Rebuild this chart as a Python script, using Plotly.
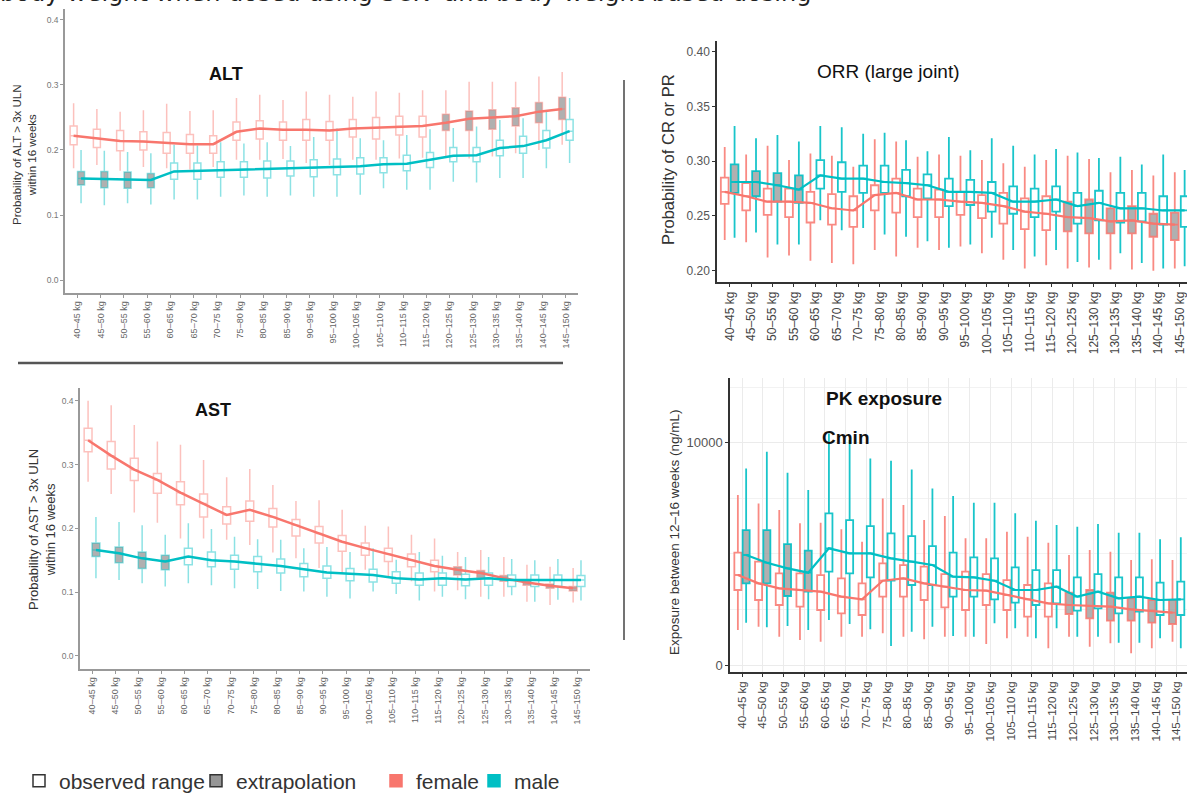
import plotly.graph_objects as go

W, H = 1187, 796

categories = ["40–45 kg", "45–50 kg", "50–55 kg", "55–60 kg", "60–65 kg", "65–70 kg",
              "70–75 kg", "75–80 kg", "80–85 kg", "85–90 kg", "90–95 kg", "95–100 kg",
              "100–105 kg", "105–110 kg", "110–115 kg", "115–120 kg", "120–125 kg",
              "125–130 kg", "130–135 kg", "135–140 kg", "140–145 kg", "145–150 kg"]

# 1 = extrapolation (outside observed weight range), 0 = observed range
female_extrap = [0, 0, 0, 0, 0, 0, 0, 0, 0, 0, 0, 0, 0, 0, 0, 0, 1, 1, 1, 1, 1, 1]
male_extrap = [1, 1, 1, 1, 0, 0, 0, 0, 0, 0, 0, 0, 0, 0, 0, 0, 0, 0, 0, 0, 0, 0]

# ---------------- ALT ----------------
alt_f_med = [0.222, 0.218, 0.214, 0.213, 0.211, 0.209, 0.209, 0.228, 0.233, 0.231, 0.231, 0.230, 0.233, 0.234, 0.236, 0.237, 0.242, 0.248, 0.250, 0.252, 0.259, 0.263]
alt_f_q1 = [0.208, 0.204, 0.199, 0.200, 0.195, 0.195, 0.195, 0.215, 0.217, 0.215, 0.215, 0.215, 0.220, 0.217, 0.223, 0.220, 0.230, 0.230, 0.232, 0.237, 0.242, 0.247]
alt_f_q3 = [0.237, 0.232, 0.230, 0.228, 0.227, 0.224, 0.222, 0.243, 0.245, 0.243, 0.247, 0.244, 0.247, 0.250, 0.252, 0.252, 0.255, 0.260, 0.262, 0.265, 0.273, 0.281]
alt_f_lo = [0.172, 0.177, 0.168, 0.174, 0.172, 0.170, 0.174, 0.185, 0.185, 0.186, 0.180, 0.177, 0.185, 0.185, 0.187, 0.188, 0.190, 0.187, 0.190, 0.195, 0.200, 0.208]
alt_f_hi = [0.272, 0.263, 0.259, 0.261, 0.271, 0.260, 0.261, 0.280, 0.285, 0.277, 0.290, 0.285, 0.282, 0.290, 0.288, 0.292, 0.292, 0.305, 0.305, 0.305, 0.313, 0.320]

alt_m_med = [0.156, 0.155, 0.154, 0.154, 0.167, 0.168, 0.169, 0.170, 0.170, 0.172, 0.172, 0.174, 0.175, 0.178, 0.179, 0.185, 0.191, 0.192, 0.203, 0.206, 0.215, 0.229]
alt_m_q1 = [0.146, 0.142, 0.141, 0.142, 0.155, 0.155, 0.158, 0.158, 0.157, 0.160, 0.159, 0.162, 0.163, 0.165, 0.168, 0.173, 0.182, 0.182, 0.191, 0.195, 0.203, 0.215]
alt_m_q3 = [0.167, 0.167, 0.166, 0.164, 0.180, 0.180, 0.182, 0.182, 0.183, 0.183, 0.185, 0.186, 0.188, 0.188, 0.192, 0.196, 0.204, 0.204, 0.215, 0.221, 0.230, 0.247]
alt_m_lo = [0.118, 0.115, 0.118, 0.116, 0.124, 0.124, 0.128, 0.130, 0.128, 0.130, 0.128, 0.128, 0.131, 0.141, 0.139, 0.139, 0.151, 0.150, 0.157, 0.157, 0.172, 0.180]
alt_m_hi = [0.200, 0.199, 0.197, 0.195, 0.208, 0.207, 0.212, 0.210, 0.212, 0.206, 0.220, 0.233, 0.218, 0.215, 0.223, 0.232, 0.234, 0.236, 0.246, 0.249, 0.259, 0.280]

# ---------------- AST ----------------
ast_f_med = [0.338, 0.314, 0.292, 0.276, 0.256, 0.239, 0.221, 0.229, 0.218, 0.205, 0.192, 0.179, 0.169, 0.160, 0.150, 0.141, 0.135, 0.130, 0.122, 0.115, 0.110, 0.106]
ast_f_q1 = [0.320, 0.293, 0.275, 0.255, 0.237, 0.218, 0.207, 0.211, 0.202, 0.188, 0.177, 0.164, 0.158, 0.148, 0.140, 0.132, 0.127, 0.123, 0.117, 0.111, 0.106, 0.102]
ast_f_q3 = [0.357, 0.336, 0.310, 0.286, 0.273, 0.254, 0.234, 0.243, 0.231, 0.214, 0.203, 0.189, 0.177, 0.169, 0.160, 0.150, 0.140, 0.134, 0.126, 0.118, 0.113, 0.109]
ast_f_lo = [0.273, 0.254, 0.225, 0.209, 0.184, 0.184, 0.182, 0.174, 0.162, 0.153, 0.138, 0.130, 0.135, 0.124, 0.117, 0.101, 0.103, 0.093, 0.093, 0.085, 0.080, 0.084]
ast_f_hi = [0.400, 0.393, 0.362, 0.336, 0.331, 0.307, 0.280, 0.293, 0.268, 0.243, 0.244, 0.229, 0.204, 0.203, 0.190, 0.184, 0.163, 0.166, 0.155, 0.143, 0.140, 0.138]

ast_m_med = [0.166, 0.161, 0.153, 0.148, 0.156, 0.150, 0.148, 0.145, 0.141, 0.136, 0.131, 0.129, 0.127, 0.122, 0.120, 0.122, 0.120, 0.122, 0.119, 0.119, 0.119, 0.119]
ast_m_q1 = [0.156, 0.146, 0.137, 0.135, 0.143, 0.140, 0.136, 0.132, 0.130, 0.124, 0.122, 0.118, 0.116, 0.114, 0.111, 0.111, 0.110, 0.111, 0.109, 0.109, 0.109, 0.109]
ast_m_q3 = [0.177, 0.171, 0.163, 0.158, 0.169, 0.163, 0.158, 0.156, 0.152, 0.145, 0.141, 0.137, 0.136, 0.132, 0.130, 0.130, 0.128, 0.130, 0.127, 0.127, 0.127, 0.126]
ast_m_lo = [0.122, 0.119, 0.114, 0.109, 0.114, 0.111, 0.106, 0.105, 0.102, 0.101, 0.093, 0.090, 0.101, 0.097, 0.087, 0.093, 0.089, 0.089, 0.095, 0.085, 0.088, 0.087]
ast_m_hi = [0.218, 0.210, 0.205, 0.190, 0.208, 0.199, 0.187, 0.183, 0.182, 0.169, 0.171, 0.163, 0.169, 0.151, 0.163, 0.157, 0.155, 0.155, 0.152, 0.150, 0.152, 0.150]

# ---------------- ORR ----------------
orr_f_med = [0.272, 0.268, 0.263, 0.263, 0.262, 0.257, 0.255, 0.269, 0.271, 0.265, 0.265, 0.263, 0.262, 0.259, 0.254, 0.252, 0.249, 0.248, 0.245, 0.246, 0.243, 0.242]
orr_f_q1 = [0.261, 0.255, 0.251, 0.249, 0.244, 0.242, 0.240, 0.255, 0.253, 0.249, 0.249, 0.251, 0.248, 0.243, 0.238, 0.237, 0.236, 0.234, 0.234, 0.234, 0.231, 0.228]
orr_f_q3 = [0.285, 0.280, 0.275, 0.275, 0.272, 0.270, 0.268, 0.278, 0.284, 0.275, 0.274, 0.272, 0.269, 0.271, 0.266, 0.268, 0.263, 0.265, 0.257, 0.259, 0.252, 0.253]
orr_f_lo = [0.228, 0.226, 0.212, 0.214, 0.209, 0.207, 0.206, 0.219, 0.213, 0.221, 0.219, 0.222, 0.216, 0.210, 0.202, 0.205, 0.202, 0.203, 0.201, 0.201, 0.200, 0.202]
orr_f_hi = [0.313, 0.306, 0.314, 0.301, 0.307, 0.305, 0.295, 0.320, 0.318, 0.304, 0.306, 0.305, 0.301, 0.298, 0.295, 0.301, 0.305, 0.302, 0.290, 0.292, 0.287, 0.290]

orr_m_med = [0.281, 0.281, 0.278, 0.274, 0.287, 0.284, 0.284, 0.281, 0.280, 0.278, 0.272, 0.272, 0.271, 0.263, 0.263, 0.265, 0.259, 0.262, 0.257, 0.257, 0.255, 0.255]
orr_m_q1 = [0.271, 0.268, 0.263, 0.262, 0.275, 0.272, 0.271, 0.271, 0.268, 0.266, 0.259, 0.260, 0.254, 0.252, 0.249, 0.254, 0.243, 0.246, 0.244, 0.245, 0.242, 0.240]
orr_m_q3 = [0.297, 0.291, 0.289, 0.287, 0.301, 0.299, 0.296, 0.296, 0.292, 0.288, 0.284, 0.283, 0.281, 0.277, 0.275, 0.277, 0.271, 0.273, 0.271, 0.271, 0.268, 0.268]
orr_m_lo = [0.230, 0.235, 0.224, 0.224, 0.246, 0.237, 0.239, 0.233, 0.231, 0.227, 0.221, 0.224, 0.230, 0.219, 0.213, 0.219, 0.208, 0.210, 0.216, 0.207, 0.202, 0.204]
orr_m_hi = [0.332, 0.321, 0.324, 0.318, 0.332, 0.331, 0.325, 0.326, 0.319, 0.309, 0.322, 0.310, 0.321, 0.314, 0.306, 0.311, 0.308, 0.303, 0.304, 0.297, 0.306, 0.292]

# ---------------- PK exposure (Cmin) ----------------
pk_f_med = [4048, 3673, 3448, 3373, 3298, 3073, 2953, 3792, 3897, 3673, 3523, 3373, 3343, 3148, 2953, 2773, 2698, 2653, 2623, 2503, 2443, 2353]
pk_f_q1 = [3373, 2923, 2698, 2623, 2473, 2323, 2248, 3073, 3073, 2923, 2593, 2473, 2698, 2473, 2174, 2174, 2293, 2099, 1994, 1994, 1904, 1844]
pk_f_q3 = [5052, 4647, 4122, 4122, 4047, 3897, 3673, 4572, 4497, 4422, 4092, 4197, 4092, 3822, 3598, 3673, 3253, 3373, 3253, 2998, 2923, 2923]
pk_f_lo = [1574, 1724, 1274, 1124, 1049, 1274, 1274, 1424, 1274, 1154, 1274, 1274, 944, 1199, 1274, 750, 1274, 824, 974, 525, 750, 1049]
pk_f_hi = [7645, 7270, 6970, 6371, 6401, 6101, 5546, 7495, 7195, 6521, 6701, 5696, 5696, 5996, 5771, 5501, 4947, 5172, 5097, 4722, 4752, 4722]

pk_m_med = [4947, 4602, 4347, 4152, 5247, 5022, 5022, 4797, 4647, 4497, 3972, 3942, 3792, 3373, 3373, 3523, 3073, 3298, 2998, 3073, 2923, 2953]
pk_m_q1 = [3673, 3673, 3103, 3298, 4197, 4122, 3942, 3792, 3598, 3598, 3073, 3073, 2953, 2803, 2698, 2773, 2443, 2548, 2323, 2398, 2248, 2248]
pk_m_q3 = [6071, 6071, 5441, 5142, 6821, 6521, 6251, 5921, 5800, 5351, 5052, 4842, 4797, 4392, 4272, 4272, 3942, 4092, 3942, 3942, 3703, 3748]
pk_m_lo = [1904, 1694, 1754, 1574, 2024, 1844, 1604, 854, 1500, 1724, 1304, 1274, 1874, 1649, 1199, 1649, 1274, 1274, 1004, 1004, 1199, 750]
pk_m_hi = [8844, 9594, 8649, 7870, 10418, 10118, 9294, 9189, 8799, 7945, 7600, 7300, 7300, 6821, 6491, 6296, 6221, 6341, 5951, 5951, 5651, 5741]

# legend labels
legend_names = ["observed range", "extrapolation", "female", "male"]

RED = "#F8766D"
TEAL = "#00BFC4"
GRAY = "rgba(150,150,150,0.75)"
FONT = "Liberation Sans, Arial, sans-serif"


def px_x(p):
    return p / W


def px_y(p):
    return 1 - p / H


fig = go.Figure()


def add_series(xa, ya, med, q1, q3, lo, hi, extrap, offset, bw, box_col, lw, trend_col, trend_w):
    n = len(categories)
    for flag, fill in [(0, "white"), (1, GRAY)]:
        idx = [i for i in range(n) if extrap[i] == flag]
        if not idx:
            continue
        fig.add_trace(go.Box(
            x=[i + offset for i in idx],
            q1=[q1[i] for i in idx], median=[med[i] for i in idx], q3=[q3[i] for i in idx],
            lowerfence=[lo[i] for i in idx], upperfence=[hi[i] for i in idx],
            width=bw, whiskerwidth=0, boxpoints=False,
            line=dict(color=box_col, width=lw), fillcolor=fill,
            xaxis=xa, yaxis=ya, showlegend=False, hoverinfo="skip"))
    fig.add_trace(go.Scatter(
        x=[i + offset for i in range(n)], y=med, mode="lines",
        line=dict(color=trend_col, width=trend_w),
        xaxis=xa, yaxis=ya, showlegend=False, hoverinfo="skip"))


RED_L = "rgba(248,118,109,0.45)"
TEAL_L = "rgba(0,191,196,0.45)"
RED_M = "rgba(248,118,109,0.85)"
TEAL_M = "rgba(0,191,196,0.9)"

# ALT
add_series("x", "y", alt_f_med, alt_f_q1, alt_f_q3, alt_f_lo, alt_f_hi, female_extrap, -0.16, 0.30, RED_L, 1.5, RED, 2.5)
add_series("x", "y", alt_m_med, alt_m_q1, alt_m_q3, alt_m_lo, alt_m_hi, male_extrap, 0.16, 0.30, TEAL_L, 1.5, TEAL, 2.5)
# AST
add_series("x2", "y2", ast_f_med, ast_f_q1, ast_f_q3, ast_f_lo, ast_f_hi, female_extrap, -0.17, 0.34, RED_L, 1.5, RED, 2.5)
add_series("x2", "y2", ast_m_med, ast_m_q1, ast_m_q3, ast_m_lo, ast_m_hi, male_extrap, 0.17, 0.34, TEAL_L, 1.5, TEAL, 2.5)
# ORR
add_series("x3", "y3", orr_f_med, orr_f_q1, orr_f_q3, orr_f_lo, orr_f_hi, female_extrap, -0.23, 0.36, RED_M, 1.8, RED, 2.2)
add_series("x3", "y3", orr_m_med, orr_m_q1, orr_m_q3, orr_m_lo, orr_m_hi, male_extrap, 0.23, 0.36, TEAL_M, 1.8, TEAL, 2.2)
# PK
add_series("x4", "y4", pk_f_med, pk_f_q1, pk_f_q3, pk_f_lo, pk_f_hi, female_extrap, -0.2, 0.34, RED_M, 1.8, RED, 2.2)
add_series("x4", "y4", pk_m_med, pk_m_q1, pk_m_q3, pk_m_lo, pk_m_hi, male_extrap, 0.2, 0.34, TEAL_M, 1.8, TEAL, 2.2)

# legend-only entries (their single box sits far below the visible ALT range)
legend_styles = [("#333333", "white", "legend", 19),
                 ("#333333", "rgb(150,150,150)", "legend2", 196),
                 (RED, RED, "legend3", 376),
                 (TEAL, TEAL, "legend4", 474)]
legend_layout = {}
for name, (lc, fc, lg, lx) in zip(legend_names, legend_styles):
    fig.add_trace(go.Box(x=[0], q1=[-9], median=[-8.5], q3=[-8], lowerfence=[-10], upperfence=[-7],
                         name=name, line=dict(color=lc, width=1.5), fillcolor=fc, boxpoints=False,
                         xaxis="x", yaxis="y", showlegend=True, legend=lg, hoverinfo="skip"))
    legend_layout[lg] = dict(orientation="h", x=px_x(lx), y=px_y(781), xref="container", yref="container",
                             xanchor="left", yanchor="middle",
                             font=dict(size=21, color="#333", family=FONT), bgcolor="rgba(0,0,0,0)",
                             itemwidth=30, tracegroupgap=0)

idx = list(range(len(categories)))


def xaxis(domain, rng, anchor, fs, col, lcol, grid=False):
    return dict(domain=domain, range=rng, anchor=anchor, tickmode="array", tickvals=idx,
                ticktext=categories, tickangle=-90, tickfont=dict(size=fs, color=col, family=FONT),
                showline=True, linecolor=lcol, linewidth=1.5, ticks="outside", ticklen=3,
                tickcolor=lcol, showgrid=grid, gridcolor="#EBEBEB", gridwidth=1, zeroline=False,
                fixedrange=True)


fig.update_layout(
    width=W, height=H, margin=dict(l=0, r=0, t=0, b=0, autoexpand=False),
    paper_bgcolor="white", plot_bgcolor="white", boxmode="overlay",
    font=dict(family=FONT),
    xaxis=xaxis([px_x(65), px_x(578)], [-0.53, 21.52], "y", 9, "#666", "#999"),
    yaxis=dict(domain=[px_y(293), px_y(9)], range=[-0.02, 0.4169], anchor="x",
               tickvals=[0, 0.1, 0.2, 0.3, 0.4], ticktext=["0.0", "0.1", "0.2", "0.3", "0.4"],
               tickfont=dict(size=8.5, color="#777"), showline=True, linecolor="#999", linewidth=1.5,
               ticks="outside", ticklen=3, tickcolor="#999", showgrid=False, zeroline=False),
    xaxis2=xaxis([px_x(80), px_x(590)], [-0.52, 21.56], "y2", 9, "#666", "#999"),
    yaxis2=dict(domain=[px_y(669), px_y(388)], range=[-0.0204, 0.42], anchor="x2",
                tickvals=[0, 0.1, 0.2, 0.3, 0.4], ticktext=["0.0", "0.1", "0.2", "0.3", "0.4"],
                tickfont=dict(size=8.5, color="#777"), showline=True, linecolor="#999", linewidth=1.5,
                ticks="outside", ticklen=3, tickcolor="#999", showgrid=False, zeroline=False),
    xaxis3=xaxis([px_x(717), 1.0], [-0.59, 21.34], "y3", 12, "#444", "#333"),
    yaxis3=dict(domain=[px_y(282), px_y(41)], range=[0.1897, 0.4097], anchor="x3",
                tickvals=[0.20, 0.25, 0.30, 0.35, 0.40], ticktext=["0.20", "0.25", "0.30", "0.35", "0.40"],
                tickfont=dict(size=12, color="#555"), showline=True, linecolor="#333", linewidth=1.5,
                ticks="outside", ticklen=3, tickcolor="#333", showgrid=False, zeroline=False),
    xaxis4=xaxis([px_x(730), 1.0], [-0.58, 21.5], "y4", 11.5, "#444", "#333", grid=True),
    yaxis4=dict(domain=[px_y(672), px_y(378)], range=[-315, 12910], anchor="x4",
                tickvals=[0, 10000], ticktext=["0", "10000"],
                tickfont=dict(size=13, color="#555"), showline=True, linecolor="#333", linewidth=1.5,
                ticks="outside", ticklen=3, tickcolor="#333", showgrid=True, gridcolor="#EBEBEB",
                gridwidth=1.2, zeroline=False,
                minor=dict(tickvals=[2500, 5000, 7500, 12500], showgrid=True, gridcolor="#F2F2F2",
                           gridwidth=1, ticks="")),
    **legend_layout,
)

annotations = [
    dict(text="body weight when dosed using SCK  and body weight based dosing", x=px_x(-2), y=px_y(-7),
         xanchor="left", yanchor="middle", font=dict(size=24, family="DejaVu Sans", color="#222")),
    dict(text="<b>ALT</b>", x=px_x(226), y=px_y(74), font=dict(size=18, color="#111")),
    dict(text="<b>AST</b>", x=px_x(213), y=px_y(410), font=dict(size=18, color="#111")),
    dict(text="ORR (large joint)", x=px_x(888), y=px_y(72), font=dict(size=19, color="#111")),
    dict(text="<b>PK exposure</b>", x=px_x(884), y=px_y(398), font=dict(size=19, color="#111")),
    dict(text="<b>Cmin</b>", x=px_x(846), y=px_y(437), font=dict(size=19, color="#111")),
    dict(text="Probability of ALT > 3x ULN<br>within 16 weeks", x=px_x(24), y=px_y(155), textangle=-90,
         font=dict(size=11.5, color="#333")),
    dict(text="Probability of AST > 3x ULN<br>within 16 weeks", x=px_x(42), y=px_y(530), textangle=-90,
         font=dict(size=13, color="#333")),
    dict(text="Probability of CR or PR", x=px_x(668), y=px_y(160), textangle=-90,
         font=dict(size=16.5, color="#333")),
    dict(text="Exposure between 12–16 weeks (ng/mL)", x=px_x(674), y=px_y(533), textangle=-90,
         font=dict(size=13.5, color="#333")),
]
for a in annotations:
    a.update(xref="paper", yref="paper", showarrow=False)
    a.setdefault("xanchor", "center")
    a.setdefault("yanchor", "middle")
fig.update_layout(annotations=annotations)

fig.update_layout(shapes=[
    dict(type="line", xref="paper", yref="paper", x0=px_x(18), x1=px_x(563), y0=px_y(363), y1=px_y(363),
         line=dict(color="#555", width=2.5)),
    dict(type="line", xref="paper", yref="paper", x0=px_x(624), x1=px_x(624), y0=px_y(80), y1=px_y(640),
         line=dict(color="#444", width=1.5)),
])

fig.write_html("out.html")
